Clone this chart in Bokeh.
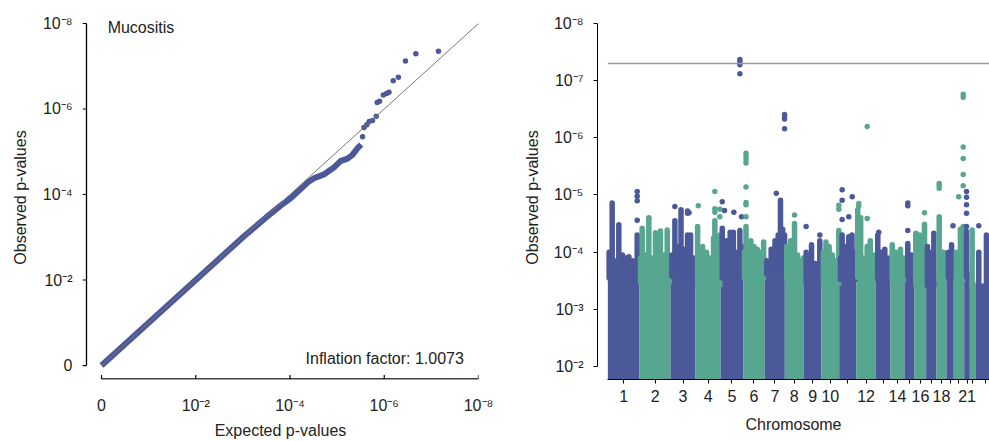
import numpy as np
from bokeh.plotting import figure
from bokeh.models import Range1d, FixedTicker
from bokeh.core.properties import value
from bokeh.layouts import row
from bokeh.embed import file_html
from bokeh.resources import INLINE

# ---------------- data: QQ plot (values as -log10 p) ----------------
qq_band_expected = [0.0, 1.0, 2.0, 3.0, 3.5, 3.8, 4.0, 4.22, 4.37, 4.51, 4.72, 4.93, 5.07, 5.22, 5.32, 5.43, 5.51]
qq_band_observed = [0.0, 1.0, 2.0, 3.0, 3.47, 3.74, 3.9, 4.12, 4.28, 4.38, 4.47, 4.63, 4.78, 4.84, 4.92, 5.08, 5.17]
qq_top_expected = [5.54, 5.57, 5.63, 5.68, 5.75, 5.83, 5.85, 5.90, 5.98, 6.05, 6.10, 6.19, 6.30, 6.45, 6.67, 7.15]
qq_top_observed = [5.35, 5.57, 5.63, 5.71, 5.73, 5.83, 6.15, 6.18, 6.33, 6.36, 6.39, 6.66, 6.74, 7.12, 7.29, 7.35]
qq_ticks = [0, 2, 4, 6, 8]
qq_axis_max = 8
inflation_factor = "1.0073"
trait_name = "Mucositis"

# ---------------- data: Manhattan plot ----------------
chrom_names = ["1", "2", "3", "4", "5", "6", "7", "8", "9", "10", "11", "12",
               "13", "14", "15", "16", "17", "18", "19", "20", "21", "22", "X"]
chrom_len = [248, 243, 196, 196, 177, 169, 157, 149, 138, 139, 133, 154,
             115, 109, 79, 91, 81, 78, 57, 82, 44, 44, 157]
chrom_shown = ["1", "2", "3", "4", "5", "6", "7", "8", "9", "10", "12", "14", "16", "18", "21"]
# level up to which each chromosome column is densely filled
dense_top = [3.65, 3.58, 3.68, 3.52, 3.65, 3.65, 3.72, 3.62, 3.55, 3.55, 3.62, 3.66,
             3.62, 3.60, 3.68, 3.52, 3.52, 3.60, 3.66, 3.62, 3.66, 3.50, 3.45]
# columns of stacked SNPs rising above the dense part: chromosome, Mb, top (-log10 p)
stack_chr = [1] * 10 + [2] * 11 + [3] * 8 + [4] * 8 + [5] * 7 + [6] * 8 + [7] * 7 + [8] * 6 + [9] * 5 + \
            [10] * 6 + [11] * 6 + [12] * 6 + [13] * 4 + [14] * 4 + [15] * 2 + [16] * 3 + [17] * 3 + \
            [18] * 2 + [19] * 2 + [20] * 3 + [21] * 1 + [22] * 1 + [23] * 3
stack_pos = [10, 34, 50, 86, 115, 140, 165, 195, 230, 242,
             8, 21, 45, 73, 102, 125, 145, 164, 196, 217, 235,
             10, 34, 55, 82, 105, 133, 157, 180,
             16, 55, 86, 110, 141, 151, 180, 190,
             13, 45, 75, 100, 130, 151, 168,
             10, 22, 40, 60, 85, 110, 135, 160,
             15, 50, 80, 105, 123, 140, 155,
             15, 45, 76, 100, 125, 145,
             18, 40, 60, 90, 125,
             15, 35, 60, 85, 110, 136,
             10, 23, 50, 75, 100, 125,
             12, 35, 60, 86, 110, 138,
             15, 40, 70, 95,
             13, 40, 78, 100,
             26, 55,
             10, 40, 78,
             10, 45, 60,
             21, 55,
             15, 40,
             20, 52, 74,
             18,
             18,
             26, 86, 130]
stack_top = [4.00, 4.86, 3.85, 4.48, 3.95, 3.90, 3.92, 3.85, 4.30, 4.05,
             3.90, 4.42, 3.95, 4.60, 3.90, 4.34, 3.85, 4.37, 3.95, 4.39, 3.90,
             3.95, 4.55, 4.10, 4.74, 4.05, 4.30, 4.30, 3.90,
             4.45, 4.10, 4.00, 3.90, 4.25, 4.55, 4.00, 4.30,
             4.42, 4.20, 4.35, 4.35, 4.00, 4.38, 4.10,
             4.00, 4.45, 4.10, 4.20, 4.10, 4.05, 4.00, 4.18,
             3.85, 4.05, 4.20, 4.30, 4.91, 4.40, 4.30,
             4.10, 4.20, 4.50, 3.95, 3.85, 3.90,
             4.00, 3.90, 4.13, 3.80, 4.20,
             4.00, 4.18, 4.10, 3.95, 3.85, 4.38,
             3.90, 4.30, 4.10, 4.27, 4.30, 4.00,
             4.74, 4.60, 3.90, 4.10, 4.20, 3.95,
             4.30, 4.00, 4.05, 3.90,
             4.13, 4.00, 4.05, 3.90,
             4.15, 3.95,
             4.33, 4.30, 4.49,
             4.10, 4.00, 4.33,
             4.62, 4.00,
             4.00, 4.13,
             4.00, 4.40, 4.45,
             4.30,
             4.39,
             4.00, 4.30, 3.70]
# individual SNPs: chromosome, Mb, -log10 p
snp_chr = [1, 1, 1, 1, 2, 3, 3, 3, 3, 4, 4, 4, 4, 4, 4,
           5, 5, 5, 5, 5, 5, 5, 5, 6, 6, 6, 6, 6, 6, 6, 6, 7, 7, 7, 7, 7, 8, 9, 9,
           10, 10, 11, 11, 11, 11, 11, 12, 12, 12, 12, 13, 15, 15, 15, 16, 18, 18, 18, 19,
           20, 20, 20, 20, 20, 20, 20, 21, 21, 21, 21, 21, 21, 23]
snp_pos = [230, 230, 230, 230, 73, 34, 133, 133, 145, 21, 151, 151, 151, 190, 190,
           13, 31, 104, 164, 151, 151, 151, 151, 22, 22, 22, 22, 22, 22, 22, 22, 90, 155, 155, 155, 155, 76, 18, 125,
           136, 136, 23, 23, 23, 102, 75, 20, 20, 86, 86, 23, 26, 26, 26, 78, 21, 21, 21, 51,
           39, 74, 74, 74, 74, 74, 74, 18, 18, 18, 18, 18, 18, 26]
snp_val = [5.06, 4.98, 4.90, 4.56, 4.59, 4.80, 4.72, 4.68, 4.69, 4.81, 5.06, 4.76, 4.70, 4.75, 4.62,
           4.88, 4.73, 4.70, 4.62, 7.37, 7.33, 7.28, 7.12, 5.73, 5.68, 5.62, 5.56, 5.14, 4.87, 4.83, 4.62, 5.03, 6.41, 6.37, 6.33, 6.16, 4.65, 4.45, 4.30,
           4.82, 4.75, 5.09, 4.91, 4.57, 4.97, 4.62, 4.85, 4.80, 4.59, 6.20, 4.35, 4.86, 4.81, 4.38, 4.69, 5.20, 5.16, 5.12, 4.46,
           4.97, 6.76, 6.71, 5.84, 5.64, 5.36, 5.16, 5.06, 4.96, 4.83, 4.68, 4.45, 4.36, 4.46]
gw_threshold = 7.3          # -log10(5e-8)
manhattan_axis = (2, 8)

# ---------------- styles ----------------
FONT = "Liberation Sans"
FS = "16px"
BLUE = "#4b5899"
GREEN = "#57a68f"
TXT = "#222222"
SUP = str.maketrans("0123456789-", "⁰¹²³⁴⁵⁶⁷⁸⁹⁻")


def pow_label(e):
    return "0" if e == 0 else "10" + ("-%d" % e).translate(SUP)


def style_axis(ax, ticks, labels, tick_out=4):
    ax.ticker = FixedTicker(ticks=ticks)
    ax.major_label_overrides = dict(zip(ticks, labels))
    ax.minor_tick_line_color = None
    ax.major_tick_out = tick_out
    ax.major_tick_in = 0
    ax.major_label_text_font = FONT
    ax.major_label_text_font_size = FS
    ax.major_label_text_color = TXT
    ax.axis_label_text_font = FONT
    ax.axis_label_text_font_size = FS
    ax.axis_label_text_font_style = "normal"
    ax.axis_label_text_color = TXT


# ---------------- QQ plot ----------------
# scale: 47.1 px per unit horizontally, 42.88 px per unit vertically
QX, QY = 47.1, 42.88
qq_x_start = -19 / QX           # frame left edge (tick ends)
qq_rule_x = -15 / QX            # detached y-axis line
qq_rule_y = -13.5 / QY          # detached x-axis line
qq_tick_y = -9.5 / QY
qq_top_pad = 8 / QY
p1 = figure(width=498, height=441, x_range=Range1d(qq_x_start, 8.0),
            y_range=Range1d(-14 / QY, 8.0 + qq_top_pad),
            output_backend="svg", toolbar_location=None,
            min_border_left=82, min_border_right=20, min_border_top=15, min_border_bottom=61)
p1.grid.visible = False
p1.outline_line_color = None

p1.text(x=[0.13], y=[7.91], text=[trait_name], text_baseline="middle", text_align="left",
        text_font=value(FONT), text_font_size=FS, text_color=TXT)
p1.text(x=[7.69], y=[0.175], text=["Inflation factor: " + inflation_factor], text_align="right",
        text_baseline="middle", text_font=value(FONT), text_font_size=FS, text_color=TXT)
p1.scatter(qq_top_expected, qq_top_observed, size=5.5, fill_color=BLUE, line_color=None)
p1.line(qq_band_expected, qq_band_observed, line_color=BLUE, line_width=6)
p1.line([0, qq_axis_max], [0, qq_axis_max], line_color="#777777", line_width=1)

# axis rules and ticks of the QQ panel (detached axes)
nt = len(qq_ticks)
p1.segment(x0=[qq_rule_x], y0=[0], x1=[qq_rule_x], y1=[qq_axis_max], line_color="black", line_width=1.3)
p1.segment(x0=[qq_x_start] * nt, y0=qq_ticks, x1=[qq_rule_x] * nt, y1=qq_ticks, line_color="black", line_width=1.2)
p1.segment(x0=[0], y0=[qq_rule_y], x1=[qq_axis_max], y1=[qq_rule_y], line_color="black", line_width=1.3)
p1.segment(x0=qq_ticks, y0=[qq_rule_y] * nt, x1=qq_ticks, y1=[qq_tick_y] * nt, line_color="black", line_width=1.2)

for ax in (p1.xaxis[0], p1.yaxis[0]):
    style_axis(ax, qq_ticks, [pow_label(t) for t in qq_ticks], tick_out=0)
    ax.axis_line_color = None
    ax.major_tick_line_color = None

p1.xaxis[0].axis_label = "Expected p-values"
p1.xaxis[0].major_label_standoff = 17
p1.xaxis[0].axis_label_standoff = 5
p1.yaxis[0].axis_label = "Observed p-values"
p1.yaxis[0].major_label_standoff = 10
p1.yaxis[0].axis_label_standoff = 11

# ---------------- Manhattan plot ----------------
clen = np.array(chrom_len, dtype=float)
starts = np.concatenate([[0.0], np.cumsum(clen)[:-1]])
centers = starts + clen / 2
total = float(clen.sum())
chrom_col = [BLUE if i % 2 == 0 else GREEN for i in range(len(chrom_len))]

mh_top_pad = 8 / 57.33
p2 = figure(width=491, height=441, x_range=Range1d(-81, 2989),
            y_range=Range1d(1.773, manhattan_axis[1] + mh_top_pad),
            output_backend="svg", toolbar_location=None,
            min_border_left=99, min_border_right=0, min_border_top=15, min_border_bottom=61)
p2.grid.visible = False
p2.outline_line_color = None

p2.vbar(x=centers, width=clen, bottom=0, top=dense_top, fill_color=chrom_col, line_color=None)

sc = np.array(stack_chr) - 1
stack_x = starts[sc] + np.array(stack_pos)
stack_base = np.array(dense_top)[sc] - 0.1
p2.segment(x0=stack_x, y0=stack_base, x1=stack_x, y1=stack_top,
           line_color=[chrom_col[i] for i in sc], line_width=5.5, line_cap="round")

nc = np.array(snp_chr) - 1
snp_x = starts[nc] + np.array(snp_pos)
p2.scatter(snp_x, snp_val, size=5.5, fill_color=[chrom_col[i] for i in nc], line_color=None)

p2.line([0, total], [gw_threshold, gw_threshold], line_color="#9a9a9a", line_width=1.5)

xt = [int(round(c)) for c in centers]
style_axis(p2.xaxis[0], xt, [n if n in chrom_shown else "" for n in chrom_names])
p2.xaxis[0].bounds = (0.0, total)
p2.xaxis[0].axis_label = "Chromosome"
p2.xaxis[0].major_label_standoff = 6
p2.xaxis[0].axis_label_standoff = 11

yt = list(range(manhattan_axis[0], manhattan_axis[1] + 1))
style_axis(p2.yaxis[0], yt, [pow_label(t) for t in yt])
p2.yaxis[0].bounds = manhattan_axis
p2.yaxis[0].axis_label = "Observed p-values"
p2.yaxis[0].major_label_standoff = 10
p2.yaxis[0].axis_label_standoff = 10

layout = row(p1, p2)
open("out.html", "w").write(file_html(layout, INLINE))
